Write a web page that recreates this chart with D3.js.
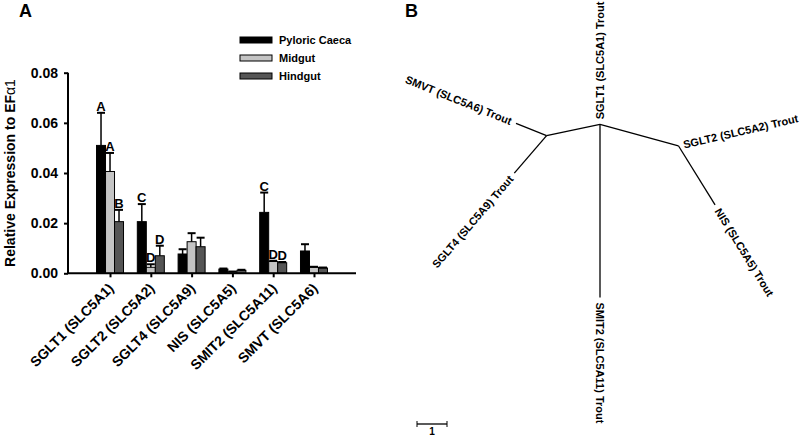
<!DOCTYPE html>
<html>
<head>
<meta charset="utf-8">
<script src="https://cdn.jsdelivr.net/npm/d3@7"></script>
<style>
  body { margin: 0; background: #fff; }
  text { font-family: Arial, "Liberation Sans", sans-serif; }
</style>
</head>
<body>
<svg id="chart" width="799" height="436"></svg>
<script>
// panel A data
const genes = ["SGLT1 (SLC5A1)", "SGLT2 (SLC5A2)", "SGLT4 (SLC5A9)", "NIS (SLC5A5)", "SMIT2 (SLC5A11)", "SMVT (SLC5A6)"];
const tissues = ["Pyloric Caeca", "Midgut", "Hindgut"];
const pyloricMean = [0.0510, 0.0206, 0.0077, 0.0017, 0.0243, 0.0089];
const pyloricErr = [0.0130, 0.0070, 0.0019, 0.0002, 0.0079, 0.0027];
const midgutMean = [0.0406, 0.0024, 0.0126, 0.0006, 0.0047, 0.0024];
const midgutErr = [0.0074, 0.0012, 0.0034, 0.0001, 0.0003, 0.0002];
const hindgutMean = [0.0206, 0.0070, 0.0106, 0.0012, 0.0042, 0.0021];
const hindgutErr = [0.0047, 0.0040, 0.0036, 0.0002, 0.0003, 0.0002];
const pyloricLetters = ["A", "C", "", "", "C", ""];
const midgutLetters = ["A", "D", "", "", "D", ""];
const hindgutLetters = ["B", "D", "", "", "D", ""];
const yTicks = [0, 0.02, 0.04, 0.06, 0.08];

// panel B tree: node, parent, branch length (units), branch angle (deg)
const treeNodes = ["root", "left", "right", "SGLT1 (SLC5A1) Trout", "SMIT2 (SLC5A11) Trout", "SMVT (SLC5A6) Trout", "SGLT4 (SLC5A9) Trout", "SGLT2 (SLC5A2) Trout", "NIS (SLC5A5) Trout"];
const treeParents = ["", "root", "root", "root", "root", "left", "left", "right", "right"];
const branchLengths = [0, 1.82, 2.71, 0, 5.77, 1.10, 1.65, 0, 2.32];
const branchAngles = [0, 168, 15.3, -90, 90, 202, 130.7, -13, 58.2];
const scaleBarUnits = 1;

const svg = d3.select("#chart");
const fills = ["#000000", "#c4c4c4", "#555555"];
const means = [pyloricMean, midgutMean, hindgutMean];
const errs = [pyloricErr, midgutErr, hindgutErr];
const letters = [pyloricLetters, midgutLetters, hindgutLetters];

const barData = [];
genes.forEach((g, i) => {
  tissues.forEach((t, j) => {
    barData.push({ gene: g, tissue: t, value: means[j][i], err: errs[j][i], letter: letters[j][i], fill: fills[j] });
  });
});

const x = d3.scalePoint().domain(genes).range([68, 356]).padding(1.03);
const xs = d3.scaleBand().domain(tissues).range([-13.5, 13.5]);
const y = d3.scaleLinear().domain([0, 0.08]).range([273.3, 72.7]);

const gA = svg.append("g");

// bars
gA.selectAll("rect.bar")
  .data(barData)
  .enter()
  .append("rect")
  .attr("class", "bar")
  .attr("x", (d) => x(d.gene) + xs(d.tissue))
  .attr("width", xs.bandwidth())
  .attr("y", (d) => y(d.value))
  .attr("height", (d) => y(0) - y(d.value))
  .attr("fill", (d) => d.fill)
  .attr("stroke", "#000")
  .attr("stroke-width", 1);

// error bars (upper only)
const eb = gA.selectAll("g.err").data(barData).enter().append("g").attr("class", "err");
eb.append("line")
  .attr("x1", (d) => x(d.gene) + xs(d.tissue) + xs.bandwidth() / 2)
  .attr("x2", (d) => x(d.gene) + xs(d.tissue) + xs.bandwidth() / 2)
  .attr("y1", (d) => y(d.value))
  .attr("y2", (d) => y(d.value + d.err))
  .attr("stroke", "#000")
  .attr("stroke-width", 1.5);
eb.append("line")
  .attr("x1", (d) => x(d.gene) + xs(d.tissue) + 0.5)
  .attr("x2", (d) => x(d.gene) + xs(d.tissue) + xs.bandwidth() - 0.5)
  .attr("y1", (d) => y(d.value + d.err))
  .attr("y2", (d) => y(d.value + d.err))
  .attr("stroke", "#000")
  .attr("stroke-width", 2);

// significance letters
gA.selectAll("text.letter")
  .data(barData.filter((d) => d.letter))
  .enter()
  .append("text")
  .attr("class", "letter")
  .attr("x", (d) => x(d.gene) + xs(d.tissue) + xs.bandwidth() / 2)
  .attr("y", (d) => y(d.value + d.err) - 2)
  .attr("text-anchor", "middle")
  .attr("font-size", 13)
  .attr("font-weight", "bold")
  .text((d) => d.letter);

// y axis
const yAxis = gA.append("g")
  .attr("transform", "translate(68,0)")
  .call(d3.axisLeft(y).tickValues(yTicks).tickFormat(d3.format(".2f")).tickSize(4).tickPadding(6));
yAxis.select(".domain").attr("stroke-width", 2).attr("d", `M0,${y(0.08)}V${y(0)}`);
yAxis.selectAll(".tick line").attr("stroke-width", 2);
yAxis.selectAll(".tick text").attr("font-size", 14).attr("font-weight", "bold").attr("font-family", "Arial, sans-serif");

// x axis
const xAxis = gA.append("g")
  .attr("transform", `translate(0,${y(0)})`)
  .call(d3.axisBottom(x).tickSize(4).tickSizeOuter(0));
xAxis.select(".domain").attr("stroke-width", 2).attr("d", "M68,0H356");
xAxis.selectAll(".tick line").attr("stroke-width", 2);
xAxis.selectAll(".tick text")
  .attr("font-size", 14)
  .attr("font-weight", "bold")
  .attr("font-family", "Arial, sans-serif")
  .attr("text-anchor", "end")
  .attr("dy", null)
  .attr("y", 0)
  .attr("transform", "translate(4,16) rotate(-45)");

// y label
gA.append("text")
  .attr("transform", `translate(15,${(y(0) + y(0.08)) / 2}) rotate(-90)`)
  .attr("text-anchor", "middle")
  .attr("font-size", 14)
  .attr("font-weight", "bold")
  .text("Relative Expression to EF")
  .append("tspan")
  .attr("font-weight", "normal")
  .text("α1");

// legend
const leg = gA.selectAll("g.leg").data(tissues).enter().append("g")
  .attr("class", "leg")
  .attr("transform", (d, i) => `translate(240,${40 + i * 18})`);
leg.append("rect")
  .attr("x", 0).attr("y", -3).attr("width", 32).attr("height", 6)
  .attr("fill", (d, i) => fills[i]).attr("stroke", "#000").attr("stroke-width", 1);
leg.append("text")
  .attr("x", 39).attr("y", 4)
  .attr("font-size", 11).attr("font-weight", "bold")
  .text((d) => d);

// panel labels
svg.append("text").attr("x", 19).attr("y", 17).attr("font-size", 18).attr("font-weight", "bold").text("A");
svg.append("text").attr("x", 405).attr("y", 17).attr("font-size", 18).attr("font-weight", "bold").text("B");

// panel B: unrooted tree
const unit = d3.scaleLinear().domain([0, 1]).range([0, 30]);
const table = treeNodes.map((n, i) => ({ id: n, parent: treeParents[i] || null, len: branchLengths[i], ang: branchAngles[i] }));
const root = d3.stratify().id((d) => d.id).parentId((d) => d.parent)(table);
root.x = 600;
root.y = 124.3;
root.each((n) => {
  if (n.parent) {
    const a = (n.data.ang * Math.PI) / 180;
    n.x = n.parent.x + unit(n.data.len) * Math.cos(a);
    n.y = n.parent.y + unit(n.data.len) * Math.sin(a);
  }
});

const gB = svg.append("g");
gB.selectAll("line.branch")
  .data(root.links().filter((l) => l.target.data.len > 0))
  .enter()
  .append("line")
  .attr("class", "branch")
  .attr("x1", (d) => d.source.x)
  .attr("y1", (d) => d.source.y)
  .attr("x2", (d) => d.target.x)
  .attr("y2", (d) => d.target.y)
  .attr("stroke", "#000")
  .attr("stroke-width", 1.3);

const flipped = (d) => Math.cos((d.data.ang * Math.PI) / 180) < -0.01;
gB.selectAll("text.tip")
  .data(root.leaves())
  .enter()
  .append("text")
  .attr("class", "tip")
  .attr("font-size", 11)
  .attr("font-weight", "bold")
  .attr("dominant-baseline", "central")
  .attr("transform", (d) => `translate(${d.x},${d.y}) rotate(${flipped(d) ? d.data.ang - 180 : d.data.ang})`)
  .attr("text-anchor", (d) => (flipped(d) ? "end" : "start"))
  .attr("x", (d) => (flipped(d) ? -5 : 5))
  .text((d) => d.id);

// scale bar
gB.append("line")
  .attr("x1", 417).attr("x2", 417 + unit(scaleBarUnits))
  .attr("y1", 424).attr("y2", 424)
  .attr("stroke", "#000").attr("stroke-width", 1.3);
gB.selectAll("line.cap")
  .data([0, scaleBarUnits])
  .enter()
  .append("line")
  .attr("class", "cap")
  .attr("x1", (d) => 417 + unit(d)).attr("x2", (d) => 417 + unit(d))
  .attr("y1", 421).attr("y2", 427)
  .attr("stroke", "#000").attr("stroke-width", 1);
gB.append("text")
  .attr("x", 417 + unit(scaleBarUnits) / 2).attr("y", 435)
  .attr("text-anchor", "middle").attr("font-size", 10).attr("font-weight", "bold")
  .text(scaleBarUnits);
</script>
</body>
</html>
